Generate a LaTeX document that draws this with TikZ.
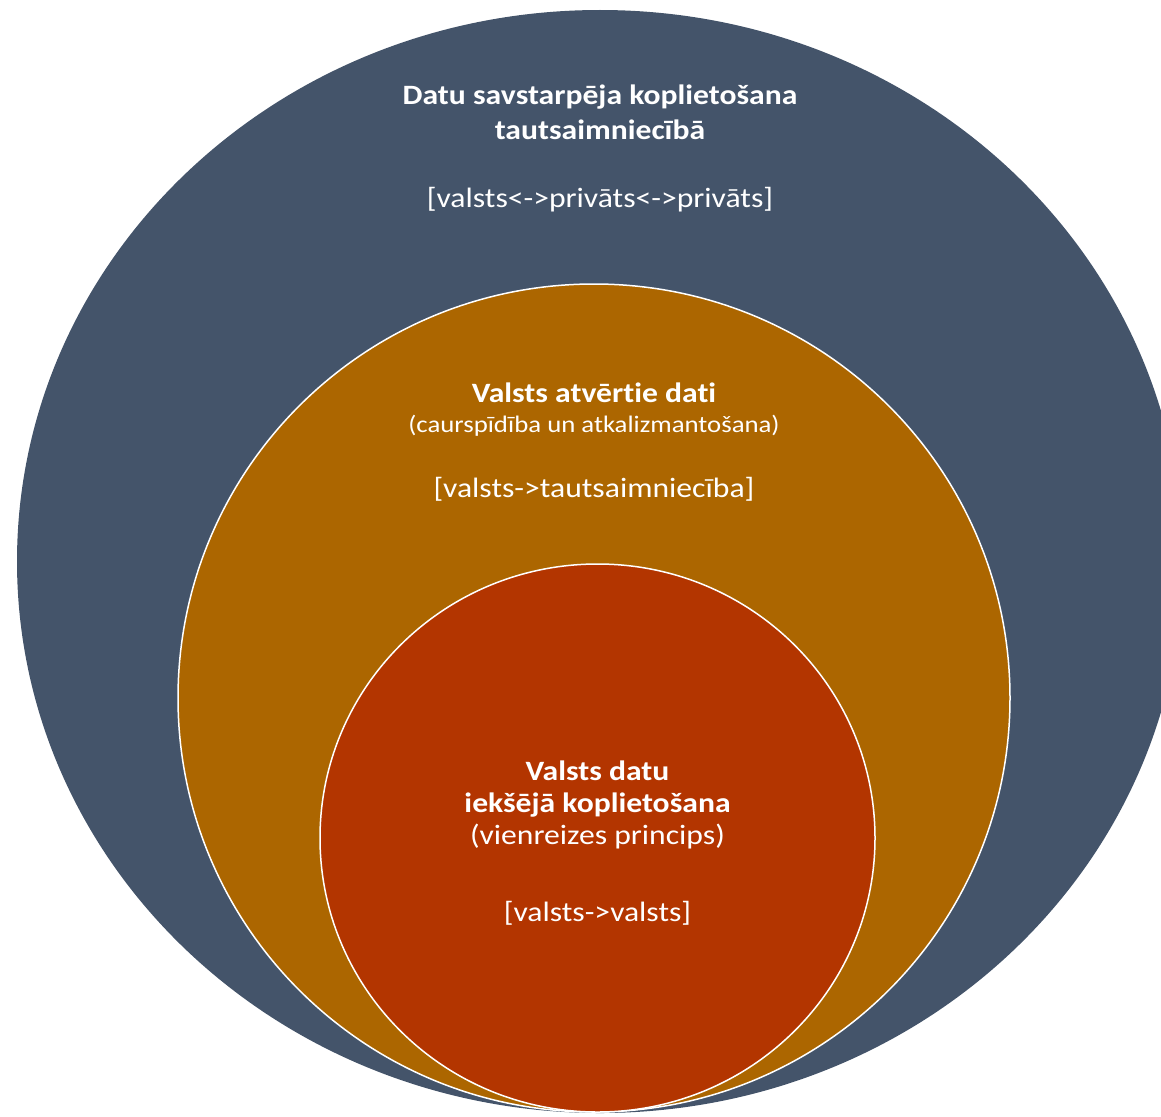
\documentclass[tikz,border=0pt]{standalone}
\usepackage{fontspec}
\setmainfont{Carlito}[FakeStretch=1.13, Ligatures=NoCommon]
\usetikzlibrary{shapes.geometric}

\definecolor{outerblue}{HTML}{44546A}
\definecolor{openbrown}{HTML}{AC6600}
\definecolor{innerred}{HTML}{B33500}

\tikzset{
    ring/.style={
           ellipse,
           inner sep=0pt,
           draw=white, line width=1.5pt,
           },
    heading/.style={
           text=white, anchor=base, inner sep=0pt,
           font=\fontsize{28}{34}\selectfont\bfseries,
           },
    note/.style={
           text=white, anchor=base, inner sep=0pt,
           font=\fontsize{28}{34}\selectfont,
           },
    smallnote/.style={note, font=\fontsize{23.7}{28}\selectfont},
}

\begin{document}
\begin{tikzpicture}[x=1pt,y=-1pt]
\useasboundingbox (0,0) rectangle (1161,1116);

       \node[ring, fill=outerblue, draw=none, minimum width=1166pt, minimum height=1103pt] (OUTER) at (600,561.5) {};
       \node[ring, fill=openbrown, minimum width=832pt, minimum height=828pt] (OPEN) at (594,698) {};
       \node[ring, fill=innerred, minimum width=555pt, minimum height=548pt] (INTERNAL) at (597.5,838) {};

       \node[heading] (OUTERTITLE) at ([yshift=-95pt]OUTER.north) {Datu savstarpēja koplietošana};
       \node[heading] (OUTERTITLEB) at ([yshift=-130pt]OUTER.north) {tautsaimniecībā};
       \node[note] (OUTERFLOW) at ([yshift=-198pt]OUTER.north) {[valsts<->privāts<->privāts]};

       \node[heading] (OPENTITLE) at ([yshift=-119pt]OPEN.north) {Valsts atvērtie dati};
       \node[smallnote] (OPENSUB) at ([yshift=-149pt]OPEN.north) {(caurspīdība un atkalizmantošana)};
       \node[note] (OPENFLOW) at ([yshift=-214pt]OPEN.north) {[valsts->tautsaimniecība]};

       \node[heading] (INTERNALTITLE) at ([yshift=-217pt]INTERNAL.north) {Valsts datu};
       \node[heading] (INTERNALTITLEB) at ([yshift=-249pt]INTERNAL.north) {iekšējā koplietošana};
       \node[note] (INTERNALSUB) at ([yshift=-281pt]INTERNAL.north) {(vienreizes princips)};
       \node[note] (INTERNALFLOW) at ([yshift=-358pt]INTERNAL.north) {[valsts->valsts]};

\end{tikzpicture}
\end{document}
